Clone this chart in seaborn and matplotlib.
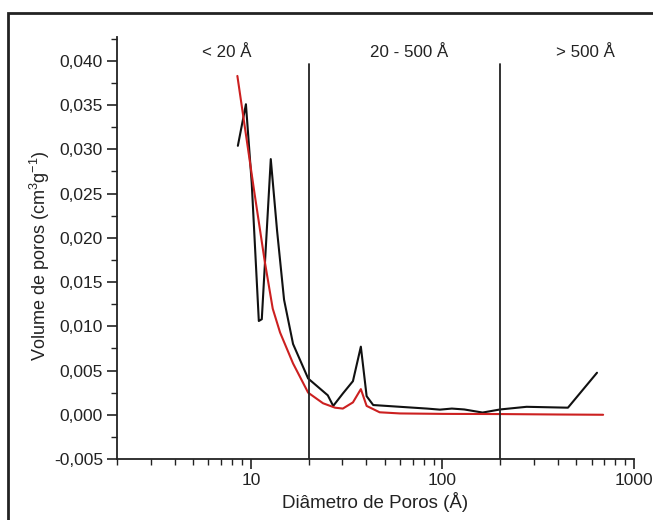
import numpy as np
import pandas as pd
import matplotlib
matplotlib.use("Agg")
import matplotlib.pyplot as plt
from matplotlib.ticker import FuncFormatter, MultipleLocator, LogLocator, NullFormatter
from matplotlib.patches import Rectangle
import seaborn as sns

# ---- data ----
black_x = [8.55, 9.42, 10.1, 11.0, 11.4, 12.7, 13.7, 14.9, 16.6, 19.9, 25.2, 26.9,
           30.2, 34.1, 37.5, 40.2, 43.5, 60, 83, 97, 112, 130, 162, 200, 275, 452, 641]
black_y = [0.0304, 0.0351, 0.0262, 0.0106, 0.0108, 0.0289, 0.0208, 0.0130, 0.0080,
           0.0041, 0.0022, 0.0010, 0.0024, 0.0038, 0.0077, 0.0021, 0.0011, 0.0009,
           0.0007, 0.00058, 0.0007, 0.0006, 0.00025, 0.0006, 0.0009, 0.0008, 0.00475]

red_x = [8.5, 10.4, 11.8, 13.0, 14.2, 16.6, 19.9, 23.8, 27.5, 30.2, 34.1, 37.5,
         40.2, 47, 60, 100, 200, 400, 690]
red_y = [0.0383, 0.0253, 0.0174, 0.0120, 0.0093, 0.0058, 0.0025, 0.0013, 0.0008,
         0.0007, 0.0014, 0.0029, 0.0010, 0.00028, 0.00015, 0.0001, 0.00008, 0.00003, 0.0]

region_bounds = [20, 200]
region_labels = ["< 20 Å", "20 - 500 Å", "> 500 Å"]
region_label_x = [7.5, 66.8, 555]

x_label = "Diâmetro de Poros (Å)"
y_label = "Volume de poros (cm$^3$g$^{-1}$)"

# ---- styling ----
sns.set_style("ticks")
plt.rcParams["font.family"] = ["Liberation Sans", "DejaVu Sans"]
plt.rcParams["mathtext.default"] = "regular"

fig = plt.figure(figsize=(6.53, 5.20), dpi=100)
ax = fig.add_axes([117 / 653, 1 - 459 / 520, (634 - 117) / 653, (459 - 37) / 520])

df_b = pd.DataFrame({"x": black_x, "y": black_y})
df_r = pd.DataFrame({"x": red_x, "y": red_y})
sns.lineplot(data=df_b, x="x", y="y", ax=ax, color="#111111", lw=1.5, sort=False)
sns.lineplot(data=df_r, x="x", y="y", ax=ax, color="#cc2020", lw=1.5, sort=False)

ax.set_xscale("log")
ax.set_xlim(2, 1000)
ax.set_ylim(-0.005, 0.0427)

for b in region_bounds:
    ax.plot([b, b], [-0.005, 0.0397], color="#222222", lw=1.3)

for lbl, lx in zip(region_labels, region_label_x):
    ax.text(lx, 0.0409, lbl, ha="center", va="center", fontsize=12.2, color="#222222")

sns.despine(ax=ax)
for s in ["left", "bottom"]:
    ax.spines[s].set_linewidth(1.3)
    ax.spines[s].set_color("#222222")

ax.yaxis.set_major_locator(MultipleLocator(0.005))
ax.yaxis.set_minor_locator(MultipleLocator(0.0025))
ax.yaxis.set_major_formatter(FuncFormatter(lambda v, p: f"{v:.3f}".replace(".", ",")))
ax.xaxis.set_major_locator(LogLocator(base=10, numticks=10))
ax.xaxis.set_minor_locator(LogLocator(base=10, subs=np.arange(2, 10), numticks=20))
ax.xaxis.set_minor_formatter(NullFormatter())
ax.xaxis.set_major_formatter(FuncFormatter(lambda v, p: f"{int(round(v))}"))

ax.tick_params(axis="both", which="major", length=7, width=1.2, labelsize=12.5,
               colors="#222222", direction="out", pad=3)
ax.tick_params(axis="both", which="minor", length=4, width=1.0, direction="out",
               colors="#222222")

ax.set_xlabel(x_label, fontsize=13.5, color="#222222", labelpad=3)
ax.set_ylabel(y_label, fontsize=13, color="#222222")
ax.yaxis.set_label_coords(-0.126, 0.483)

# outer frame (cropped at right and bottom in the reference)
fig.patches.append(Rectangle((8 / 653, -0.05), 1.1, 1 - 13 / 520 + 0.05,
                             transform=fig.transFigure, fill=False,
                             edgecolor="#222222", lw=2.0))

fig.savefig("out.png", dpi=100)
